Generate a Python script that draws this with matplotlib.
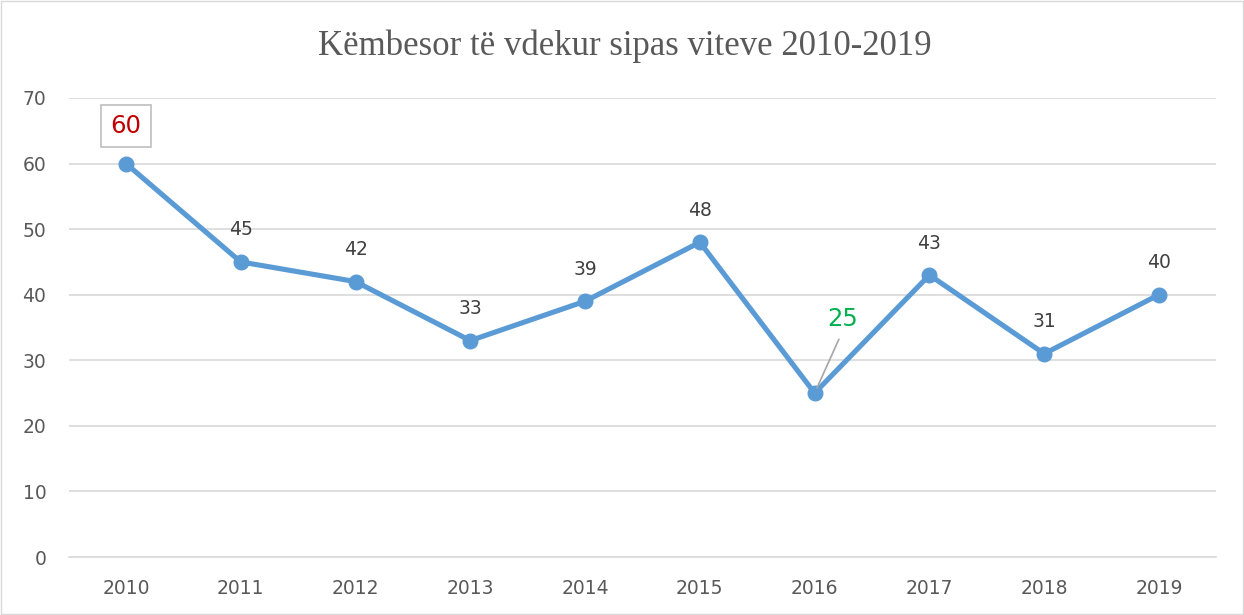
import matplotlib
matplotlib.use("Agg")
import matplotlib.pyplot as plt
from matplotlib.patches import Rectangle

years = ["2010", "2011", "2012", "2013", "2014", "2015", "2016", "2017", "2018", "2019"]
deaths = [60, 45, 42, 33, 39, 48, 25, 43, 31, 40]
title = "Këmbesor të vdekur sipas viteve 2010-2019"
yticks = [0, 10, 20, 30, 40, 50, 60, 70]

fig = plt.figure(figsize=(12.44, 6.15), dpi=100)
ax = fig.add_axes([0.0551, 0.0943, 0.9227, 0.7464])

x = list(range(len(years)))
ax.plot(x, deaths, color="#5B9BD5", lw=3.7, marker="o", ms=10.5, zorder=3,
        solid_capstyle="round", solid_joinstyle="round")

ax.set_xlim(-0.5, len(years) - 0.5)
ax.set_ylim(0, 70)
ax.set_yticks(yticks)
ax.set_xticks(x)
ax.set_xticklabels(years)
ax.grid(axis="y", color="#D9D9D9", lw=1.2)
ax.set_axisbelow(True)
for s in ["top", "right", "left"]:
    ax.spines[s].set_visible(False)
ax.spines["bottom"].set_color("#D9D9D9")
ax.spines["bottom"].set_linewidth(1.2)
ax.tick_params(length=0, labelsize=13.5, colors="#595959")
ax.tick_params(axis="x", pad=16)
ax.tick_params(axis="y", pad=16)

for i, v in enumerate(deaths):
    if i == 0:
        ax.annotate(str(v), (i, v), xytext=(0, 27), textcoords="offset points",
                    ha="center", va="center", fontsize=17.5, color="#C00000",
                    bbox=dict(boxstyle="square,pad=0.38", fc="white", ec="#BFBFBF", lw=1.2))
    elif years[i] == "2016":
        ax.annotate(str(v), (i, v), xytext=(20, 53), textcoords="offset points",
                    ha="center", va="center", fontsize=17.5, color="#00B050",
                    arrowprops=dict(arrowstyle="-", color="#A6A6A6", lw=1.2,
                                    relpos=(0.5, 0.0), shrinkA=4, shrinkB=4))
    else:
        ax.annotate(str(v), (i, v), xytext=(0, 23), textcoords="offset points",
                    ha="center", va="center", fontsize=13.5, color="#404040")

fig.text(0.5025, 0.925, title, ha="center", va="center", fontsize=25,
         color="#595959", family="Liberation Serif")

fig.patches.append(Rectangle((0.001, 0.001), 0.998, 0.998, transform=fig.transFigure,
                             fill=False, ec="#D9D9D9", lw=1))

fig.savefig("out.png", dpi=100)
